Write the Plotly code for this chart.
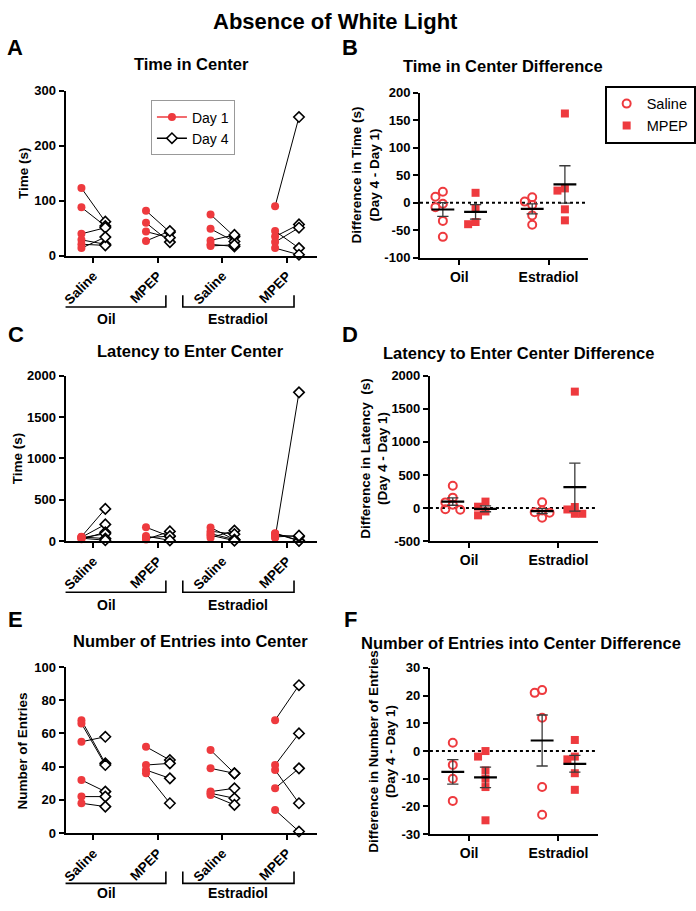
import numpy as np
import plotly.graph_objects as go

# ---------------- data ----------------
paired_groups = ['Saline', 'MPEP', 'Saline', 'MPEP']
treatments = ['Oil', 'Estradiol']

# A: Time in Center (s), Day 1 / Day 4 per animal
time_oil_sal_d1 = [123, 88, 40, 29, 21, 14]
time_oil_sal_d4 = [62, 54, 51, 21, 19, 34]
time_oil_mpep_d1 = [82, 60, 44, 27]
time_oil_mpep_d4 = [43, 25, 33, 45]
time_est_sal_d1 = [75, 49, 28, 21, 18]
time_est_sal_d4 = [35, 26, 38, 17, 20]
time_est_mpep_d1 = [90, 45, 35, 25, 14]
time_est_mpep_d4 = [252, 14, 57, 51, 2]

# B: Difference in time (Day 4 - Day 1)
dtime_oil_sal = [11, -8, -33, -62, 20, -2]
dtime_oil_mpep = [18, -39, -35, -10]
dtime_est_sal = [10, -4, -23, -40, 2]
dtime_est_mpep = [162, 22, 26, -12, -32]

# C: Latency to enter center (s)
lat_oil_sal_d1 = [53, 45, 22, 40, 50, 35]
lat_oil_sal_d4 = [389, 202, 107, 88, 30, 10]
lat_oil_mpep_d1 = [167, 20, 40, 60]
lat_oil_mpep_d4 = [56, 117, 60, 8]
lat_est_sal_d1 = [165, 40, 120, 90, 70]
lat_est_sal_d4 = [17, 127, 83, 18, 5]
lat_est_mpep_d1 = [39, 95, 90, 75, 50]
lat_est_mpep_d4 = [1800, 8, 3, 53, 65]

# D: Difference in latency
dlat_oil_sal = [336, 157, 85, 48, -20, -25]
dlat_oil_mpep = [-111, 97, 20, -52]
dlat_est_sal = [-148, 87, -37, -72, -65]
dlat_est_mpep = [1761, -87, -87, -22, 15]

# E: Number of entries into center
ent_oil_sal_d1 = [68, 66, 55, 32, 22, 18]
ent_oil_sal_d4 = [42, 41, 58, 25, 22, 16]
ent_oil_mpep_d1 = [52, 41, 38, 36]
ent_oil_mpep_d4 = [44, 42, 33, 18]
ent_est_sal_d1 = [50, 39, 25, 24, 23]
ent_est_sal_d4 = [36, 36, 27, 21, 17]
ent_est_mpep_d1 = [68, 41, 38, 27, 14]
ent_est_mpep_d4 = [89, 60, 18, 39, 1]

# F: Difference in number of entries
dent_oil_sal = [3, -5, -10, -18]
dent_oil_mpep = [-2, 0, -7, -10, -13, -25]
dent_est_sal = [22, 21, 12, -13, -23]
dent_est_mpep = [4, -3, -2, -8, -14]

# ---------------- layout helpers ----------------
W, H = 696, 911
FONT = 'Liberation Sans, Arial, Helvetica, sans-serif'
RED = '#EE3A3E'


def px(xp):
    return xp / W


def py(yp):
    return 1 - yp / H


fig = go.Figure()

PAIR_OFF = 0.185
PAIR_RANGE = [0.569, 4.46]
DIFF_OFF = 0.183
DIFF_RANGE = [0.561, 2.439]
DIAMOND = dict(symbol='diamond', size=8, color='white', line=dict(color='black', width=1.6))


def axn(i):
    return ('x' if i == 1 else f'x{i}'), ('y' if i == 1 else f'y{i}')


def add_paired(i, d1_groups, d4_groups):
    xa, ya = axn(i)
    lx, ly, m1x, m1y, m4x, m4y = [], [], [], [], [], []
    for g, (d1, d4) in enumerate(zip(d1_groups, d4_groups)):
        c = g + 1
        for a, b in zip(d1, d4):
            lx += [c - PAIR_OFF, c + PAIR_OFF, None]
            ly += [a, b, None]
            m1x.append(c - PAIR_OFF)
            m1y.append(a)
            m4x.append(c + PAIR_OFF)
            m4y.append(b)
    fig.add_trace(go.Scatter(x=lx, y=ly, mode='lines', line=dict(color='black', width=1),
                             xaxis=xa, yaxis=ya, showlegend=False, hoverinfo='skip', cliponaxis=False))
    fig.add_trace(go.Scatter(x=m1x, y=m1y, mode='markers',
                             marker=dict(symbol='circle', size=8, color=RED),
                             xaxis=xa, yaxis=ya, showlegend=False, cliponaxis=False))
    fig.add_trace(go.Scatter(x=m4x, y=m4y, mode='markers', marker=DIAMOND,
                             xaxis=xa, yaxis=ya, showlegend=False, cliponaxis=False))


def swarm(vals, ppu, d=7.5):
    """Column-scatter offsets (pixels): each point takes centre, left or right,
    whichever is the least crowded."""
    vals = np.asarray(vals, float)
    order = np.argsort(-vals)
    placed = []
    offs = np.zeros(len(vals))
    for idx in order:
        yp = vals[idx] * ppu
        best, best_d = 0.0, -1
        for k in [0, -1, 1]:
            xo = k * d
            md = min([np.hypot(xo - a, yp - b) for a, b in placed] + [1e9])
            if md >= 0.9 * d:
                best = xo
                break
            if md > best_d:
                best, best_d = xo, md
        offs[idx] = best
        placed.append((best, yp))
    return offs


def add_diff(i, groups, ppu):
    xa, ya = axn(i)
    centers = [1 - DIFF_OFF, 1 + DIFF_OFF, 2 - DIFF_OFF, 2 + DIFF_OFF]
    sx, sy, qx, qy = [], [], [], []
    mx, my, ex, ey = [], [], [], []
    for g, vals in enumerate(groups):
        c = centers[g]
        offs = swarm(vals, ppu) / 90.0
        xs = [c + o for o in offs]
        if g % 2 == 0:
            sx += xs
            sy += list(vals)
        else:
            qx += xs
            qy += list(vals)
        arr = np.asarray(vals, float)
        m = arr.mean()
        s = arr.std(ddof=1) / np.sqrt(len(arr))
        mx += [c - 0.128, c + 0.128, None]
        my += [m, m, None]
        ex += [c, c, None, c - 0.063, c + 0.063, None, c - 0.063, c + 0.063, None]
        ey += [m - s, m + s, None, m + s, m + s, None, m - s, m - s, None]
    fig.add_trace(go.Scatter(x=sx, y=sy, mode='markers',
                             marker=dict(symbol='circle-open', size=8, color=RED, line=dict(width=2)),
                             xaxis=xa, yaxis=ya, showlegend=False, cliponaxis=False))
    fig.add_trace(go.Scatter(x=qx, y=qy, mode='markers',
                             marker=dict(symbol='square', size=8, color=RED),
                             xaxis=xa, yaxis=ya, showlegend=False, cliponaxis=False))
    fig.add_trace(go.Scatter(x=ex, y=ey, mode='lines', line=dict(color='#3a3a3a', width=1.3),
                             xaxis=xa, yaxis=ya, showlegend=False, hoverinfo='skip', cliponaxis=False))
    fig.add_trace(go.Scatter(x=mx, y=my, mode='lines', line=dict(color='black', width=2.2),
                             xaxis=xa, yaxis=ya, showlegend=False, hoverinfo='skip', cliponaxis=False))
    fig.add_shape(type='line', xref=f'{xa} domain', yref=ya, x0=0, x1=1, y0=0, y1=0,
                  line=dict(color='black', width=2, dash='dot'), layer='below')


# legend-only traces
fig.add_trace(go.Scatter(x=[None], y=[None], mode='lines+markers', name='Day 1',
                         line=dict(color=RED, width=1.5), marker=dict(symbol='circle', size=8, color=RED),
                         legend='legend', xaxis='x', yaxis='y'))
fig.add_trace(go.Scatter(x=[None], y=[None], mode='lines+markers', name='Day 4',
                         line=dict(color='black', width=1.5), marker=DIAMOND,
                         legend='legend', xaxis='x', yaxis='y'))
fig.add_trace(go.Scatter(x=[None], y=[None], mode='markers', name='Saline',
                         marker=dict(symbol='circle-open', size=8, color=RED, line=dict(width=2)),
                         legend='legend2', xaxis='x2', yaxis='y2'))
fig.add_trace(go.Scatter(x=[None], y=[None], mode='markers', name='MPEP',
                         marker=dict(symbol='square', size=8, color=RED),
                         legend='legend2', xaxis='x2', yaxis='y2'))

add_paired(1, [time_oil_sal_d1, time_oil_mpep_d1, time_est_sal_d1, time_est_mpep_d1],
           [time_oil_sal_d4, time_oil_mpep_d4, time_est_sal_d4, time_est_mpep_d4])
add_paired(3, [lat_oil_sal_d1, lat_oil_mpep_d1, lat_est_sal_d1, lat_est_mpep_d1],
           [lat_oil_sal_d4, lat_oil_mpep_d4, lat_est_sal_d4, lat_est_mpep_d4])
add_paired(5, [ent_oil_sal_d1, ent_oil_mpep_d1, ent_est_sal_d1, ent_est_mpep_d1],
           [ent_oil_sal_d4, ent_oil_mpep_d4, ent_est_sal_d4, ent_est_mpep_d4])

add_diff(2, [dtime_oil_sal, dtime_oil_mpep, dtime_est_sal, dtime_est_mpep], 168 / 300)
add_diff(4, [dlat_oil_sal, dlat_oil_mpep, dlat_est_sal, dlat_est_mpep], 168 / 2500)
add_diff(6, [dent_oil_sal, dent_oil_mpep, dent_est_sal, dent_est_mpep], 169 / 60)

# ---------------- axes ----------------
TICKFONT = dict(family=FONT, size=13, color='black', weight='bold')


def base_axis():
    return dict(showline=True, linewidth=2, linecolor='black', ticks='outside', ticklen=5,
                tickwidth=2, tickcolor='black', showgrid=False, zeroline=False, tickfont=TICKFONT)


def yaxis(anchor, dom, lo, hi, step):
    vals = list(np.arange(lo, hi + step / 2, step))
    d = base_axis()
    d.update(anchor=anchor, domain=[py(dom[1]), py(dom[0])], range=[lo, hi],
             tickmode='array', tickvals=vals, ticktext=[str(int(v)) for v in vals])
    return d


def xpaired(anchor, dom):
    d = base_axis()
    d.update(anchor=anchor, domain=[px(dom[0]), px(dom[1])], range=PAIR_RANGE,
             tickmode='array', tickvals=[1, 2, 3, 4], ticktext=paired_groups, tickangle=-45,
             tickfont=dict(family=FONT, size=13.5, color='black', weight='bold'))
    return d


def xdiff(anchor, dom):
    d = base_axis()
    d.update(anchor=anchor, domain=[px(dom[0]), px(dom[1])], range=DIFF_RANGE,
             tickmode='array', tickvals=[1, 2], ticktext=treatments,
             tickfont=dict(family=FONT, size=14, color='black', weight='bold'))
    return d


layout_axes = dict(
    xaxis=xpaired('y', (62, 315)), yaxis=yaxis('x', (85, 253), 0, 300, 100),
    xaxis2=xdiff('y2', (419, 588)), yaxis2=yaxis('x2', (87, 255), -100, 200, 50),
    xaxis3=xpaired('y3', (62, 315)), yaxis3=yaxis('x3', (375, 543), 0, 2000, 500),
    xaxis4=xdiff('y4', (429, 598)), yaxis4=yaxis('x4', (375, 543), -500, 2000, 500),
    xaxis5=xpaired('y5', (62, 315)), yaxis5=yaxis('x5', (671, 840), 0, 100, 20),
    xaxis6=xdiff('y6', (429, 598)), yaxis6=yaxis('x6', (672, 841), -30, 30, 10),
)

# ---------------- text ----------------
ann = []


def text(t, x, y, size, angle=0):
    ann.append(dict(text=f'<b>{t}</b>', x=px(x), y=py(y), xref='paper', yref='paper',
                    xanchor='center', yanchor='middle', showarrow=False, textangle=angle,
                    font=dict(family=FONT, size=size, color='black')))


text('Absence of White Light', 334, 15, 22)
for letter, x, y in [('A', 11, 41), ('B', 349, 41), ('C', 12, 333), ('D', 349, 333), ('E', 12, 623), ('F', 349, 623)]:
    text(letter, x, y, 22)
text('Time in Center', 189, 58, 16.5)
text('Time in Center Difference', 503, 60, 16.5)
text('Latency to Enter Center', 188, 350, 16.5)
text('Latency to Enter Center Difference', 518, 352, 16.5)
text('Number of Entries into Center', 188, 645, 16.5)
text('Number of Entries into Center Difference', 521, 647, 16.5)

text('Time (s)', 19, 169, 13.5, -90)
text('Time (s)', 14, 459, 13.5, -90)
text('Number of Entries', 19, 756, 13.5, -90)
text('Difference in Time (s)<br>(Day 4 - Day 1)', 364, 171, 13.5, -90)
text('Difference in Latency  (s)<br>(Day 4 - Day 1)', 373, 459, 13.5, -90)
text('Difference in Number of Entries<br>(Day 4 - Day 1)', 381, 757, 13.5, -90)

# brackets under paired panels
shapes = []
for xa, ybar, ytxt in [('x', 305, 317), ('x3', 595, 608), ('x5', 891, 901)]:
    for (x0, x1), lab in zip([(0.277, 2.123), (2.385, 4.108)], treatments):
        yt, yb = py(ybar - 12), py(ybar)
        shapes.append(dict(type='path', xref=xa, yref='paper',
                           path=f'M {x0},{yt} L {x0},{yb} L {x1},{yb} L {x1},{yt}',
                           line=dict(color='black', width=1.6)))
        ann.append(dict(text=f'<b>{lab}</b>', x=(x0 + x1) / 2, y=py(ytxt), xref=xa, yref='paper',
                        xanchor='center', yanchor='middle', showarrow=False,
                        font=dict(family=FONT, size=14, color='black')))

for s in shapes:
    fig.add_shape(**s)

fig.update_layout(
    width=W, height=H, autosize=False,
    margin=dict(l=0, r=0, t=0, b=0),
    paper_bgcolor='white', plot_bgcolor='white',
    font=dict(family=FONT, color='black'),
    annotations=ann,
    legend=dict(x=px(148), y=py(95), xanchor='left', yanchor='top', bgcolor='white',
                bordercolor='#999999', borderwidth=1, font=dict(family=FONT, size=14, color='black'),
                itemwidth=30, tracegroupgap=0),
    legend2=dict(x=px(605), y=py(80), xanchor='left', yanchor='top', bgcolor='white',
                 bordercolor='black', borderwidth=2, font=dict(family=FONT, size=14.5, color='black'),
                 itemwidth=30, tracegroupgap=0),
    **layout_axes,
)

fig.write_html('out.html',
               config={'displayModeBar': False, 'staticPlot': True},
               post_script="document.body.style.margin='0';document.body.style.padding='0';"
                           "document.body.style.overflow='hidden';")
